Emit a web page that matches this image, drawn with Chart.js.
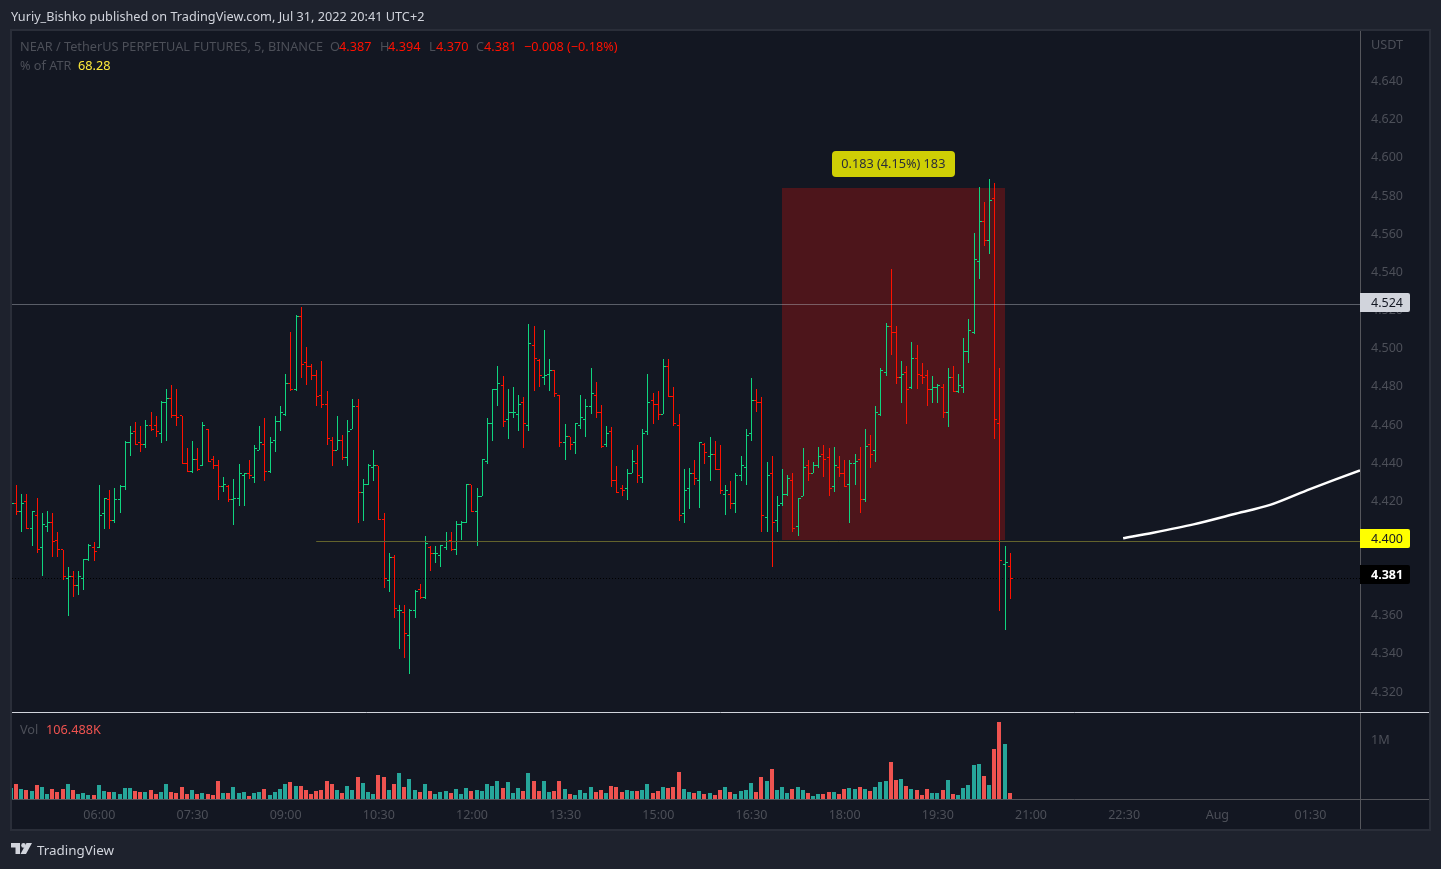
<!DOCTYPE html>
<html>
<head>
<meta charset="utf-8">
<title>NEAR / TetherUS</title>
<script src="https://cdn.jsdelivr.net/npm/chart.js@4"></script>
<style>
  html, body { margin: 0; padding: 0; background: #1e222d; width: 1441px; height: 869px; overflow: hidden; }
  canvas { position: absolute; left: 0; top: 0; }
  .t { position: absolute; white-space: pre; font: 12.7px/16px "Noto Sans", sans-serif; color: #4c4f58; }
  .red { color: #ff1100; }
</style>
</head>
<body>
<canvas id="chart" width="1441" height="869"></canvas>

<div class="t" style="left:11px;top:8px;color:#d1d4dc">Yuriy_Bishko published on TradingView.com, Jul 31, 2022 20:41 UTC+2</div>
<div class="t" style="left:20px;top:38px">NEAR / TetherUS PERPETUAL FUTURES, 5, BINANCE</div>
<div class="t" style="left:330px;top:38px">O</div><div class="t red" style="left:339px;top:38px">4.387</div>
<div class="t" style="left:380px;top:38px">H</div><div class="t red" style="left:388px;top:38px">4.394</div>
<div class="t" style="left:429px;top:38px">L</div><div class="t red" style="left:436px;top:38px">4.370</div>
<div class="t" style="left:476px;top:38px">C</div><div class="t red" style="left:484px;top:38px">4.381</div>
<div class="t red" style="left:524px;top:38px">−0.008 (−0.18%)</div>
<div class="t" style="left:20px;top:57px">% of ATR</div>
<div class="t" style="left:78px;top:57px;color:#ffeb3b">68.28</div>
<div class="t" style="left:20px;top:721px">Vol</div>
<div class="t" style="left:46px;top:721px;color:#ef5350">106.488K</div>
<div class="t" style="left:1371px;top:36px">USDT</div>
<div class="t" style="left:1371px;top:731px">1M</div>
<svg style="position:absolute;left:11px;top:843px" width="22" height="12" viewBox="0 0 22 12">
  <path d="M0 0H9V11H4.5V4.5H0Z M21 0L15 11H9.5L15.5 0Z" fill="#d1d4dc"/>
  <circle cx="12.5" cy="2.4" r="2.3" fill="#d1d4dc"/>
</svg>
<div class="t" style="left:37px;top:842px;font-size:13.4px;color:#d1d4dc">TradingView</div>

<script>
const opens = [
  4.418,4.420,4.416,4.421,4.407,4.414,4.397,4.408,4.410,4.401,
  4.396,4.381,4.382,4.377,4.381,4.391,4.397,4.397,4.415,4.422,
  4.411,4.422,4.429,4.452,4.458,4.452,4.451,4.461,4.461,4.457,
  4.473,4.475,4.466,4.466,4.441,4.437,4.443,4.440,4.459,4.443,
  4.440,4.429,4.429,4.422,4.423,4.435,4.436,4.434,4.448,4.451,
  4.437,4.453,4.463,4.467,4.483,4.480,4.518,4.494,4.492,4.487,
  4.477,4.472,4.453,4.448,4.453,4.444,4.459,4.471,4.426,4.430,
  4.439,4.440,4.412,4.380,4.392,4.364,4.363,4.351,4.364,4.375,
  4.371,4.397,4.394,4.393,4.397,4.401,4.396,4.409,4.410,4.430,
  4.416,4.424,4.442,4.462,4.480,4.482,4.464,4.468,4.467,4.473,
  4.461,4.503,4.495,4.486,4.488,4.490,4.477,4.452,4.455,4.452,
  4.461,4.464,4.471,4.477,4.468,4.451,4.458,4.432,4.428,4.428,
  4.436,4.441,4.434,4.458,4.474,4.472,4.467,4.492,4.476,4.461,
  4.415,4.428,4.436,4.432,4.451,4.445,4.446,4.438,4.425,4.425,
  4.420,4.435,4.439,4.457,4.474,4.473,4.413,4.436,4.411,4.420,
  4.425,4.432,4.408,4.424,4.440,4.436,4.440,4.446,4.444,4.429,
  4.439,4.436,4.430,4.441,4.443,4.422,4.451,4.448,4.467,4.489,
  4.513,4.510,4.486,4.489,4.481,4.496,4.487,4.487,4.480,4.481,
  4.481,4.468,4.486,4.479,4.481,4.500,4.510,4.547,4.568,4.558,
  4.580,4.462,4.388,4.387
];
const highs = [
  4.425,4.430,4.425,4.425,4.416,4.423,4.415,4.416,4.415,4.405,
  4.396,4.387,4.385,4.385,4.391,4.399,4.400,4.430,4.423,4.427,
  4.428,4.430,4.453,4.461,4.463,4.461,4.464,4.468,4.466,4.474,
  4.480,4.482,4.480,4.466,4.449,4.453,4.449,4.463,4.459,4.445,
  4.443,4.434,4.430,4.433,4.441,4.436,4.443,4.451,4.461,4.465,
  4.455,4.466,4.471,4.488,4.510,4.519,4.523,4.502,4.493,4.490,
  4.495,4.479,4.455,4.466,4.456,4.464,4.475,4.475,4.433,4.441,
  4.448,4.440,4.415,4.394,4.393,4.367,4.367,4.365,4.375,4.378,
  4.403,4.398,4.398,4.398,4.405,4.405,4.411,4.411,4.430,4.430,
  4.428,4.443,4.465,4.480,4.492,4.487,4.480,4.481,4.477,4.476,
  4.514,4.513,4.496,4.511,4.496,4.490,4.477,4.462,4.455,4.462,
  4.477,4.475,4.491,4.484,4.472,4.461,4.460,4.440,4.430,4.438,
  4.448,4.451,4.459,4.488,4.478,4.479,4.496,4.496,4.481,4.467,
  4.438,4.439,4.443,4.452,4.452,4.455,4.453,4.451,4.430,4.432,
  4.436,4.445,4.459,4.486,4.480,4.476,4.442,4.445,4.424,4.438,
  4.435,4.436,4.423,4.449,4.443,4.442,4.450,4.451,4.449,4.450,
  4.445,4.443,4.443,4.446,4.450,4.459,4.456,4.471,4.491,4.515,
  4.543,4.513,4.495,4.492,4.505,4.503,4.494,4.490,4.487,4.483,
  4.483,4.491,4.492,4.488,4.507,4.517,4.562,4.586,4.578,4.590,
  4.588,4.491,4.398,4.394
];
const lows = [
  4.405,4.414,4.405,4.407,4.398,4.394,4.382,4.405,4.392,4.392,
  4.380,4.361,4.371,4.372,4.375,4.390,4.390,4.397,4.407,4.407,
  4.410,4.415,4.427,4.445,4.451,4.447,4.449,4.458,4.455,4.452,
  4.453,4.465,4.461,4.441,4.437,4.436,4.437,4.440,4.442,4.438,
  4.422,4.426,4.421,4.409,4.419,4.419,4.433,4.431,4.448,4.432,
  4.436,4.447,4.458,4.466,4.479,4.479,4.486,4.482,4.485,4.471,
  4.470,4.451,4.440,4.448,4.443,4.440,4.459,4.410,4.411,4.430,
  4.432,4.412,4.376,4.374,4.360,4.344,4.339,4.331,4.360,4.370,
  4.370,4.385,4.389,4.387,4.396,4.395,4.393,4.401,4.410,4.416,
  4.398,4.424,4.441,4.453,4.471,4.460,4.454,4.465,4.458,4.449,
  4.458,4.479,4.481,4.482,4.479,4.476,4.450,4.443,4.448,4.446,
  4.459,4.455,4.467,4.465,4.449,4.450,4.429,4.426,4.424,4.422,
  4.436,4.431,4.431,4.456,4.462,4.464,4.467,4.476,4.461,4.411,
  4.410,4.417,4.430,4.418,4.441,4.432,4.438,4.425,4.414,4.417,
  4.415,4.432,4.430,4.453,4.468,4.405,4.405,4.387,4.405,4.419,
  4.424,4.405,4.403,4.424,4.432,4.436,4.439,4.434,4.424,4.426,
  4.434,4.429,4.410,4.430,4.415,4.421,4.439,4.442,4.466,4.487,
  4.498,4.483,4.473,4.462,4.480,4.480,4.483,4.471,4.473,4.473,
  4.465,4.460,4.479,4.478,4.478,4.494,4.509,4.538,4.555,4.551,
  4.454,4.364,4.354,4.370
];
const closes = [
  4.420,4.416,4.420,4.407,4.416,4.396,4.409,4.410,4.400,4.396,
  4.382,4.382,4.377,4.382,4.391,4.398,4.395,4.414,4.423,4.411,
  4.422,4.429,4.452,4.457,4.451,4.451,4.461,4.459,4.458,4.473,
  4.475,4.466,4.465,4.441,4.437,4.443,4.438,4.461,4.442,4.440,
  4.429,4.430,4.422,4.423,4.436,4.436,4.435,4.449,4.452,4.437,
  4.452,4.463,4.468,4.483,4.480,4.518,4.493,4.492,4.487,4.476,
  4.472,4.454,4.448,4.453,4.444,4.458,4.471,4.426,4.430,4.440,
  4.440,4.412,4.381,4.392,4.365,4.364,4.352,4.364,4.374,4.371,
  4.399,4.394,4.394,4.398,4.400,4.396,4.409,4.410,4.430,4.416,
  4.424,4.443,4.462,4.480,4.483,4.463,4.468,4.468,4.472,4.462,
  4.504,4.496,4.487,4.487,4.490,4.478,4.452,4.455,4.451,4.462,
  4.465,4.471,4.478,4.468,4.450,4.457,4.432,4.426,4.427,4.436,
  4.442,4.435,4.457,4.473,4.472,4.467,4.492,4.476,4.462,4.414,
  4.427,4.436,4.433,4.452,4.447,4.446,4.438,4.427,4.427,4.420,
  4.435,4.440,4.456,4.474,4.473,4.414,4.435,4.410,4.419,4.425,
  4.433,4.407,4.423,4.439,4.436,4.440,4.445,4.443,4.428,4.440,
  4.436,4.429,4.441,4.442,4.422,4.450,4.446,4.468,4.490,4.513,
  4.510,4.486,4.488,4.480,4.496,4.488,4.486,4.480,4.481,4.482,
  4.468,4.486,4.479,4.482,4.500,4.511,4.548,4.568,4.558,4.579,
  4.464,4.390,4.389,4.381
];
// volume in thousands
const volumes = [
  187,255,170,153,136,238,204,85,170,119,
  170,255,153,85,102,68,68,238,136,119,
  119,85,187,187,136,119,119,153,85,119,
  255,119,102,204,85,153,85,102,85,68,
  306,102,102,204,102,119,51,102,119,170,
  68,119,170,255,289,221,221,153,85,136,
  153,306,255,153,102,221,153,374,272,119,
  85,408,374,153,255,442,204,340,153,119,
  255,136,85,119,136,102,170,85,187,136,
  153,136,255,221,306,187,289,102,187,136,
  442,306,136,306,119,136,306,170,85,68,
  153,102,204,119,153,102,221,204,119,153,
  136,136,153,255,102,136,204,187,204,459,
  170,119,102,136,85,102,68,153,204,119,
  85,136,153,272,119,374,306,510,153,204,
  102,170,204,153,102,51,85,85,119,119,
  85,170,187,170,204,170,136,204,289,306,
  629,323,340,221,170,153,68,170,102,102,
  153,323,85,68,187,238,578,595,391,238,
  850,1309,935,106.488
];

const timeTickIndex = [17,35,53,71,89,107,125,143,161,179,197,215,233,251];
const timeTickLabels = ['06:00','07:30','09:00','10:30','12:00','13:30','15:00','16:30','18:00','19:30','21:00','22:30','Aug','01:30'];
const priceTicks = [4.32,4.34,4.36,4.38,4.40,4.42,4.44,4.46,4.48,4.50,4.52,4.54,4.56,4.58,4.60,4.62,4.64];

const levelHigh = 4.5244;
const levelLow = 4.4002;
const lastClose = 4.381;
const levelLowStart = 58.9;

const boxStart = 148.9;
const boxEnd = 192;
const boxTop = 4.5855;
const boxBottom = 4.401;
const boxLabel = '0.183 (4.15%) 183';

const curveIndex = [214.8,220.6,228.4,236.1,243.2,250.9,260.56];
const curvePrice = [4.4019,4.4048,4.4092,4.4145,4.4194,4.4277,4.4375];

const xMin = 0.1294, xMax = 260.5615;
const priceMin = 4.26526, priceMax = 4.66778;
const volMax = 13056;

const green = '#0fd47f', red = '#ff1100';
const volGreen = '#26a69a', volRed = '#ef5350';
const dim = '#4c4f58';
const font = '"Noto Sans", sans-serif';

function isUp(i) { return closes[i] >= opens[i]; }

// open tick to the left of the stem, close tick to the right, one dataset per colour
function tickPoints(up) {
  const pts = [];
  opens.forEach((o, i) => {
    if (isUp(i) !== up) return;
    pts.push({x: i - 0.4, y: o}, {x: i, y: o}, {x: i, y: null});
    pts.push({x: i, y: closes[i]}, {x: i + 0.4, y: closes[i]}, {x: i + 0.4, y: null});
  });
  return pts;
}

// keep the thin bars on whole pixels, like the original
const snapPlugin = {
  id: 'snap',
  beforeDatasetsDraw(chart) {
    const xs = chart.scales.x;
    chart.data.datasets.forEach((ds, d) => {
      const meta = chart.getDatasetMeta(d);
      meta.data.forEach((el, j) => {
        if (ds.snap === 'stem') {
          el.x = Math.floor(el.x) + 0.5;
          el.y = Math.round(el.y);
          el.base = Math.round(el.base);
        } else if (ds.snap === 'vol') {
          el.x = Math.floor(el.x);
          el.y = Math.round(el.y);
          el.base = Math.round(el.base);
        } else if (ds.snap === 'tick') {
          const v = meta._parsed[j].x;
          const i = Math.round(v);
          const c = Math.floor(xs.getPixelForValue(i));
          el.x = v < i ? c - 2 : v > i ? c + 3 : c;
          el.y = Math.floor(el.y) + 0.5;
        } else if (ds.snap === 'level') {
          el.y = Math.floor(el.y) + 0.5;
        }
      });
    });
  }
};

const framePlugin = {
  id: 'frame',
  beforeDraw(chart) {
    const c = chart.ctx;
    c.save();
    c.fillStyle = '#131722';
    c.fillRect(11, 30, 1419, 800);
    c.strokeStyle = '#2a2e39';
    c.lineWidth = 2;
    c.strokeRect(11, 30, 1419, 800);
    c.restore();
  },
  beforeDatasetsDraw(chart) {
    const c = chart.ctx, x = chart.scales.x, y = chart.scales.y;
    c.save();
    c.fillStyle = '#4d151b';
    const left = Math.round(x.getPixelForValue(boxStart));
    const top = Math.round(y.getPixelForValue(boxTop));
    c.fillRect(left, top, Math.round(x.getPixelForValue(boxEnd)) - left, Math.round(y.getPixelForValue(boxBottom)) - top);
    c.restore();
  },
  afterDraw(chart) {
    const c = chart.ctx, x = chart.scales.x, y = chart.scales.y;
    c.save();
    c.strokeStyle = '#55565c';
    c.lineWidth = 1;
    c.beginPath();
    c.moveTo(1360.5, 31); c.lineTo(1360.5, 829);
    c.moveTo(12, 799.5); c.lineTo(1429, 799.5);
    c.stroke();
    c.fillStyle = '#131722';
    c.fillRect(12, 710, 1417, 3);
    c.strokeStyle = '#d1d4dc';
    c.beginPath();
    c.moveTo(12, 712.5); c.lineTo(1429, 712.5);
    c.stroke();

    // boxed measure label
    c.fillStyle = '#cfcf05';
    c.beginPath();
    c.roundRect(832, 151, 123, 26, 4);
    c.fill();
    c.fillStyle = '#2a2e39';
    c.font = '12.7px ' + font;
    c.textBaseline = 'middle';
    c.textAlign = 'center';
    c.fillText(boxLabel, x.getPixelForValue(170.4), y.getPixelForValue(4.598));

    // price tags on the axis
    const tags = [
      {p: levelHigh, top: 293, bg: '#d1d4dc', fg: '#131722', bold: false},
      {p: levelLow, top: 529, bg: '#ffff00', fg: '#131722', bold: false},
      {p: lastClose, top: 565, bg: '#000000', fg: '#ffffff', bold: true}
    ];
    tags.forEach(t => {
      c.fillStyle = t.bg;
      c.beginPath();
      c.roundRect(1360, t.top, 50, 19, [0, 2, 2, 0]);
      c.fill();
      c.fillStyle = t.fg;
      c.font = (t.bold ? 'bold ' : '') + '12.5px ' + font;
      c.textAlign = 'left';
      c.fillText(t.p.toFixed(3), 1371, t.top + 10);
    });
    c.restore();
  }
};

const ctx = document.getElementById('chart').getContext('2d');
new Chart(ctx, {
  type: 'bar',
  data: {
    datasets: [
      {
        type: 'line', order: 1, data: curveIndex.map((v, i) => ({x: v, y: curvePrice[i]})),
        borderColor: '#ffffff', borderWidth: 2.5, pointRadius: 0, tension: 0.3,
        xAxisID: 'x', yAxisID: 'y'
      },
      {
        type: 'line', order: 2, snap: 'level', data: [{x: xMin, y: levelHigh}, {x: xMax, y: levelHigh}],
        borderColor: 'rgba(178,181,190,0.45)', borderWidth: 1, pointRadius: 0,
        xAxisID: 'x', yAxisID: 'y'
      },
      {
        type: 'line', order: 2, snap: 'level', data: [{x: levelLowStart, y: levelLow}, {x: xMax, y: levelLow}],
        borderColor: '#63632c', borderWidth: 1, pointRadius: 0,
        xAxisID: 'x', yAxisID: 'y'
      },
      {
        type: 'line', order: 7, snap: 'level', data: [{x: xMin, y: lastClose}, {x: xMax, y: lastClose}],
        borderColor: '#000000', borderWidth: 1, borderDash: [1, 2], pointRadius: 0,
        xAxisID: 'x', yAxisID: 'y'
      },
      {
        type: 'line', order: 3, snap: 'tick', data: tickPoints(true),
        borderColor: green, borderWidth: 1, pointRadius: 0, spanGaps: false,
        xAxisID: 'x', yAxisID: 'y'
      },
      {
        type: 'line', order: 3, snap: 'tick', data: tickPoints(false),
        borderColor: red, borderWidth: 1, pointRadius: 0, spanGaps: false,
        xAxisID: 'x', yAxisID: 'y'
      },
      {
        type: 'bar', order: 4, snap: 'stem', label: 'NEAR',
        data: opens.map((o, i) => ({x: i, y: [lows[i], highs[i]]})),
        backgroundColor: opens.map((o, i) => isUp(i) ? green : red),
        grouped: false, maxBarThickness: 1, barPercentage: 1, categoryPercentage: 1, inflateAmount: 0,
        xAxisID: 'x', yAxisID: 'y'
      },
      {
        type: 'bar', order: 5, snap: 'vol', label: 'Vol',
        data: volumes.map((v, i) => ({x: i, y: v})),
        backgroundColor: volumes.map((v, i) => isUp(i) ? volGreen : volRed),
        grouped: false, maxBarThickness: 4, barPercentage: 1, categoryPercentage: 1, inflateAmount: 0,
        xAxisID: 'x', yAxisID: 'yVol'
      }
    ]
  },
  options: {
    responsive: false,
    animation: false,
    events: [],
    layout: {padding: {left: 12, top: 31, right: 0, bottom: 0}},
    plugins: {legend: {display: false}, tooltip: {enabled: false}},
    scales: {
      x: {
        type: 'linear', offset: false, min: xMin, max: xMax,
        grid: {display: false, drawTicks: false}, border: {display: false},
        afterBuildTicks(axis) { axis.ticks = timeTickIndex.map(v => ({value: v})); },
        afterFit(axis) { axis.height = 70; },
        ticks: {
          autoSkip: false, maxRotation: 0, padding: 9, color: dim, font: {family: font, size: 12.5},
          callback(v, i) { return timeTickLabels[i]; }
        }
      },
      y: {type: 'linear', display: false, min: priceMin, max: priceMax},
      yVol: {type: 'linear', display: false, min: 0, max: volMax},
      // same prices, drawn a little above the marks as in the original axis
      yLabels: {
        type: 'linear', position: 'right', min: priceMin - 2.5 / 1908, max: priceMax - 2.5 / 1908,
        grid: {display: false, drawTicks: false}, border: {display: false},
        afterBuildTicks(axis) { axis.ticks = priceTicks.map(v => ({value: v})); },
        afterFit(axis) { axis.width = 81; },
        ticks: {
          padding: 11, color: dim, font: {family: font, size: 12.5},
          callback(v) { return v.toFixed(3); }
        }
      }
    }
  },
  plugins: [framePlugin, snapPlugin]
});
</script>
</body>
</html>
